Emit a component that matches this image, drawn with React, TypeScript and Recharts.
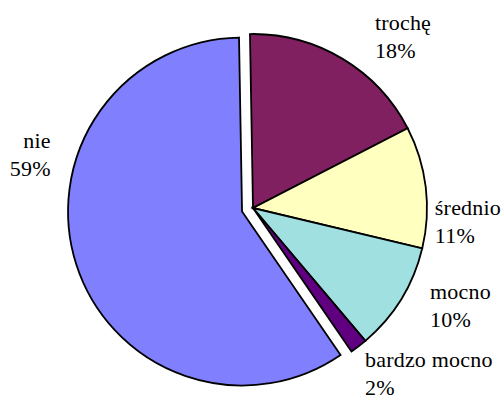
import React from "react";
import { PieChart, Pie, Cell } from "recharts";

const categories = ["trochę", "średnio", "mocno", "bardzo mocno", "nie"];
const values = [17.7, 11.3, 10.1, 1.6, 59.3];
const colors = ["#802060", "#FFFFC0", "#A0E0E0", "#600080", "#8080FF"];
const explodedIndex = 4;

const data = categories.map((name, i) => ({ name, value: values[i] }));

const CX = 253;
const CY = 208;
const R = 174;
const EXPLODE = 11.5;
const START = 91;

// label placement tweaks (clockwise degrees relative to slice middle, radius from centre)
const LABEL_SHIFT = [3.5, 9.1, -4.4, 2.2, 34.3];
const LABEL_RADIUS = [216, 182, 199, 194.5, 211];

const FONT = "'Times New Roman', 'Liberation Serif', Tinos, serif";

function renderLabel(props: any) {
  const { cx, cy, midAngle, index, percent, name } = props;
  const clockwise = 90 - midAngle + LABEL_SHIFT[index];
  const rad = (clockwise * Math.PI) / 180;
  const r = LABEL_RADIUS[index];
  const x = cx + r * Math.sin(rad);
  const y = cy - r * Math.cos(rad);
  const anchor = x >= cx ? "start" : "end";
  const pct = Math.round(percent * 100) + "%";
  return (
    <text
      key={"lbl" + index}
      x={x}
      y={y}
      textAnchor={anchor}
      style={{ fontFamily: FONT, fontSize: 22, letterSpacing: 0.2 }}
      fill="#000"
    >
      <tspan x={x} y={y}>{name}</tspan>
      <tspan x={x} y={y + 28}>{pct}</tspan>
    </text>
  );
}

// compute exploded slice offset from its middle angle
const total = values.reduce((a, b) => a + b, 0);
const before = values.slice(0, explodedIndex).reduce((a, b) => a + b, 0);
const midFrac = (before + values[explodedIndex] / 2) / total;
const midClockwise = -(START - 90) + midFrac * 360;
const mrad = (midClockwise * Math.PI) / 180;
const EX_DX = EXPLODE * Math.sin(mrad);
const EX_DY = -EXPLODE * Math.cos(mrad);

export default function App() {
  return (
    <div style={{ position: "absolute", left: 0, top: 0, width: 502, height: 401, background: "#fff", fontFamily: FONT }}>
      <PieChart width={502} height={401} margin={{ top: 0, right: 0, bottom: 0, left: 0 }}>
        <Pie
          data={data}
          dataKey="value"
          nameKey="name"
          cx={CX}
          cy={CY}
          outerRadius={R}
          startAngle={START}
          endAngle={START - 360}
          isAnimationActive={false}
          labelLine={false}
          label={renderLabel}
          stroke="#000"
          strokeWidth={1.8}
        >
          {data.map((d, i) => (
            <Cell
              key={d.name}
              fill={i === explodedIndex ? "none" : colors[i]}
              stroke={i === explodedIndex ? "none" : "#000"}
            />
          ))}
        </Pie>
        <Pie
          data={data}
          dataKey="value"
          nameKey="name"
          cx={CX + EX_DX}
          cy={CY + EX_DY}
          outerRadius={R}
          startAngle={START}
          endAngle={START - 360}
          isAnimationActive={false}
          labelLine={false}
          stroke="#000"
          strokeWidth={1.8}
        >
          {data.map((d, i) => (
            <Cell
              key={d.name}
              fill={i === explodedIndex ? colors[i] : "none"}
              stroke={i === explodedIndex ? "#000" : "none"}
            />
          ))}
        </Pie>
      </PieChart>
    </div>
  );
}
